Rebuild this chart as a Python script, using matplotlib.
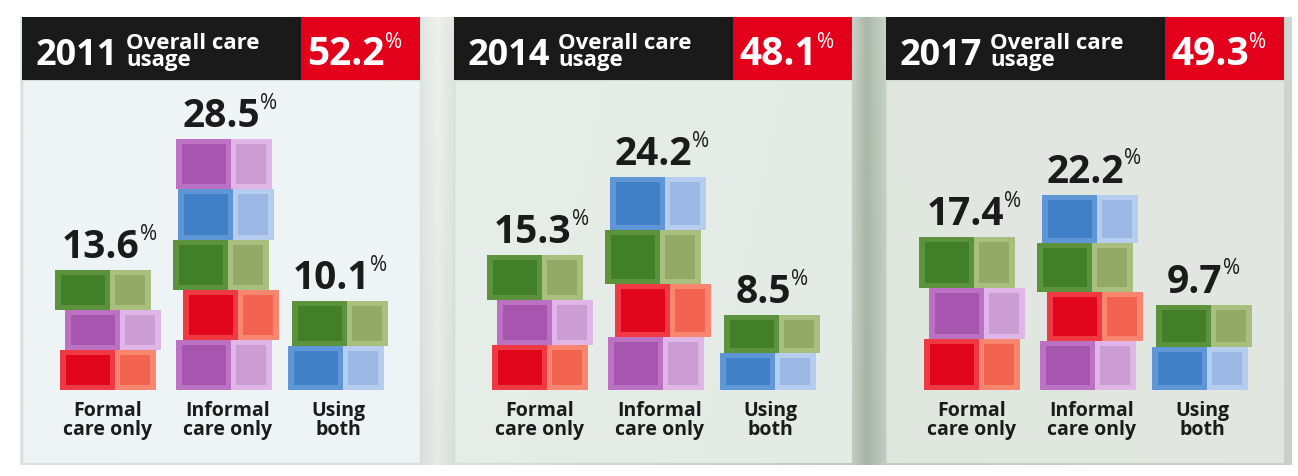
import numpy as np
import matplotlib.pyplot as plt
from matplotlib.colors import to_rgb
from matplotlib.patches import Rectangle

# ---- data ----
years = ["2011", "2014", "2017"]
overall = ["52.2", "48.1", "49.3"]
categories = ["Formal\ncare only", "Informal\ncare only", "Using\nboth"]
formal_only = [13.6, 15.3, 17.4]
informal_only = [28.5, 24.2, 22.2]
using_both = [10.1, 8.5, 9.7]

# box colours in each stack, bottom to top
stacks_2011 = [["red", "purple", "green"],
               ["purple", "red", "green", "blue", "purple"],
               ["blue", "green"]]
stacks_2014 = [["red", "purple", "green"],
               ["purple", "red", "green", "blue"],
               ["blue", "green"]]
stacks_2017 = [["red", "purple", "green"],
               ["purple", "red", "green", "blue"],
               ["blue", "green"]]
box_colours = [stacks_2011, stacks_2014, stacks_2017]

# ---- styling / layout (pixels of the 1298x476 image) ----
W, H = 1298, 476
panel_left = [22, 454, 886]
panel_w = 398
panel_top, panel_bottom = 17, 463
header_h = 63
base_y = 390
px_per_pct = 8.8
bar_x = [86, 206, 316]
box_w = 96
front_frac = 0.57
# small sideways jitter of each box, like the hand-made stacks
jitter = [[0, 5, -5], [-4, 3, -7, -2, -4], [-2, 2]]

palette = {
    # front frame, front inner, side frame, side inner
    "red": ("#ef3a44", "#e2061c", "#f8866f", "#f2644f"),
    "purple": ("#bb72c3", "#a656ae", "#dfb6e6", "#cc9dd5"),
    "green": ("#5d923d", "#417f29", "#a9bf7f", "#92aa65"),
    "blue": ("#5e96d6", "#4080c6", "#b6cdef", "#9bb8e4"),
}
text_dark = "#1b1b1b"
header_black = "#1a1a1a"
header_red = "#e2001a"
font = ["Open Sans", "DejaVu Sans"]

fig = plt.figure(figsize=(W / 100, H / 100), dpi=100)
fig.patch.set_facecolor("white")

# blurred photo-like backdrop behind the panels
bg = fig.add_axes([0, 0, 1, 1], zorder=-5)
stops_x = [20, 420, 437, 454, 852, 866, 886, 1290]
stops_c = ["#e2eaeb", "#dfe6e2", "#eef1ee", "#dfe5e0",
           "#c8d3c8", "#aab9a9", "#c9d3c8", "#cfd8ce"]
cols = np.array([to_rgb(c) for c in stops_c])
xs = np.arange(W)
row = np.stack([np.interp(xs, stops_x, cols[:, k]) for k in range(3)], axis=1)
img = np.repeat(row[None, :, :], H, axis=0)
shade = np.linspace(1.0, 0.97, H)[:, None, None]
img = img * shade
img[:panel_top] = 1
img[panel_bottom + 2:] = 1
img[:, :20] = 1
img[:, 1292:] = 1
bg.imshow(img, aspect="auto", interpolation="bilinear")
bg.axis("off")

body_tint = ["#f1f6f8", "#e8eee9", "#e4eae3"]
ylo = -(panel_bottom - base_y) / px_per_pct
yhi = (base_y - panel_top) / px_per_pct
ph = panel_bottom - panel_top
hfrac = header_h / ph


def draw_box(ax, xc, bottom, h, w, cname):
    fr, fi, sr, si = palette[cname]
    xl = xc - w / 2
    fw = w * front_frac
    iy = 5 / px_per_pct
    ax.bar(xl, h, width=fw, bottom=bottom, align="edge", color=fr, lw=0)
    ax.bar(xl + fw, h, width=w - fw, bottom=bottom, align="edge", color=sr, lw=0)
    ax.bar(xl + 6, h - 2 * iy, width=fw - 11, bottom=bottom + iy,
           align="edge", color=fi, lw=0)
    ax.bar(xl + fw + 5, h - 2 * iy, width=w - fw - 11, bottom=bottom + iy,
           align="edge", color=si, lw=0)


for p, year in enumerate(years):
    ax = fig.add_axes([panel_left[p] / W, (H - panel_bottom) / H,
                       panel_w / W, ph / H])
    ax.set_xlim(0, panel_w)
    ax.set_ylim(ylo, yhi)
    ax.axis("off")

    # panel body and header
    ax.add_patch(Rectangle((0, 0), 1, 1 - hfrac, transform=ax.transAxes,
                           fc=body_tint[p], ec="#d3dbd6", lw=1, alpha=0.9,
                           zorder=0))
    ax.add_patch(Rectangle((0, 1 - hfrac), 0.70, hfrac, transform=ax.transAxes,
                           fc=header_black, lw=0, zorder=1))
    ax.add_patch(Rectangle((0.70, 1 - hfrac), 0.30, hfrac,
                           transform=ax.transAxes, fc=header_red, lw=0, zorder=1))

    def hx(px):
        return px / panel_w

    def hy(py):
        return 1 - py / ph

    ax.text(hx(14), hy(48), year, transform=ax.transAxes, color="white",
            fontsize=26, fontweight="bold", family=font, va="baseline",
            zorder=3)
    ax.text(hx(104), hy(49), "Overall care\nusage", transform=ax.transAxes,
            color="white", fontsize=16, fontweight="bold", family=font,
            va="baseline", linespacing=0.74, zorder=3)
    t = ax.text(hx(285), hy(48), overall[p], transform=ax.transAxes,
                color="white", fontsize=28, fontweight="bold", family=font,
                va="baseline", zorder=3)
    ax.annotate("%", xy=(1, 1), xycoords=t, xytext=(0, 2),
                textcoords="offset points", ha="left", va="top",
                color="white", fontsize=15, family=font, zorder=3)

    values = [formal_only[p], informal_only[p], using_both[p]]
    for i, val in enumerate(values):
        boxes = box_colours[p][i]
        seg = val / len(boxes)
        for k, cname in enumerate(boxes):
            draw_box(ax, bar_x[i] + jitter[i][k], k * seg, seg, box_w, cname)

        num = ax.text(bar_x[i] - 7, val + 12 / px_per_pct, f"{val:.1f}",
                      ha="center", va="baseline", color=text_dark,
                      fontsize=28, fontweight="bold", family=font, zorder=4)
        ax.annotate("%", xy=(1, 1), xycoords=num, xytext=(0, 3),
                    textcoords="offset points", ha="left", va="top",
                    color=text_dark, fontsize=15, family=font, zorder=4)
        ax.text(bar_x[i], -11 / px_per_pct, categories[i], ha="center",
                va="top", color=text_dark, fontsize=14, fontweight="bold",
                family=font, linespacing=0.95, zorder=4)

fig.savefig("out.png", dpi=100)
